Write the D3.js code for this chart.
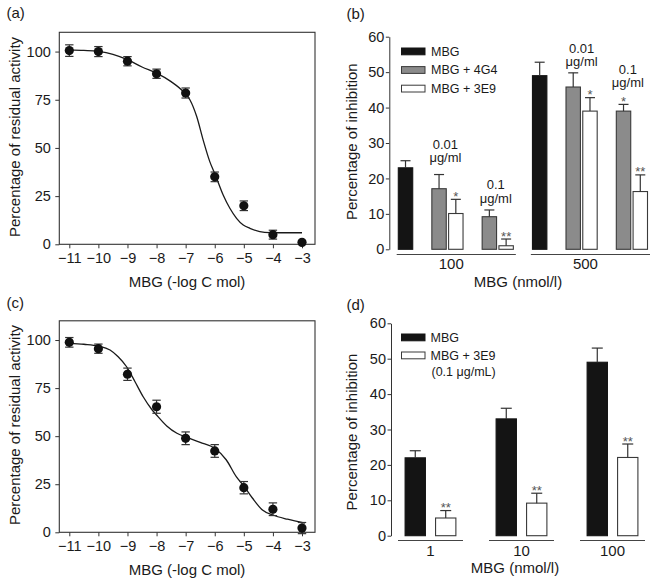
<!DOCTYPE html>
<html><head><meta charset="utf-8">
<script src="https://cdn.jsdelivr.net/npm/d3@7/dist/d3.min.js"></script>
<style>
body{margin:0;background:#fff}
svg{display:block}
text{font-family:"Liberation Sans",Arial,Helvetica,sans-serif;fill:#1a1a1a}
</style>
</head><body>
<svg id="chart" width="656" height="578"></svg>
<script>
// ---------- DATA ----------
const logTicks = [-11, -10, -9, -8, -7, -6, -5, -4, -3];
const pctTicks = [0, 25, 50, 75, 100];

// panel (a)
const aLogC = [-11, -10, -9, -8, -7, -6, -5, -4, -3];
const aMean = [100.5, 100, 95, 88.5, 78.5, 35, 20, 5, 1];
const aErr  = [3, 2.6, 2.4, 2.4, 2.6, 2.5, 2.5, 2.3, 0];
const aFitX = [-11, -10.5, -10, -9.5, -9, -8.5, -8, -7.5, -7.08, -6.85, -6.62, -6.4, -6.17, -5.98, -5.71, -5.48, -5.25, -5.02, -4.79, -4.45, -4.1, -3.5, -3];
const aFitY = [100.9, 100.6, 100.1, 98.6, 95.8, 92.0, 88.8, 84.4, 79.2, 74.9, 66.3, 54.2, 42.9, 36, 25.6, 18.7, 13.5, 10.0, 8.3, 6.6, 6.1, 6.0, 6.0];

// panel (c)
const cLogC = [-11, -10, -9, -8, -7, -6, -5, -4, -3];
const cMean = [98.8, 95.5, 82.2, 65.3, 48.9, 42.3, 23.2, 12, 2.2];
const cErr  = [2.5, 2.4, 3.2, 3.4, 3.3, 3.3, 3.2, 3.3, 2.9];
const cFitX = [-11, -10.5, -10, -9.6, -9.32, -9.03, -8.74, -8.46, -8.17, -8, -7.65, -7.3, -7, -6.5, -6, -5.6, -5.26, -5, -4.7, -4.36, -4, -3.5, -2.9];
const cFitY = [98.3, 97.8, 96.9, 94.8, 91.3, 86.1, 78.3, 70.5, 64.0, 61.0, 55.3, 51.5, 49.6, 46.8, 43.7, 37.6, 28.9, 24.1, 17.7, 11.6, 9.0, 6.8, 4.8];

// panel (b)
const inhTicks = [0, 10, 20, 30, 40, 50, 60];
const bGroups = ["100", "500"];
const bSeriesNames = ["MBG", "MBG + 4G4", "MBG + 3E9"];
const bMBG       = [23, 49];    const bMBGErr       = [2, 3.8];
const b4G4_001   = [17.1, 45.8]; const b4G4_001Err   = [4, 4];
const b3E9_001   = [10.1, 39];  const b3E9_001Err   = [4, 3.8];
const b4G4_01    = [9.2, 39];   const b4G4_01Err    = [1.9, 1.9];
const b3E9_01    = [1, 16.3];   const b3E9_01Err    = [1.9, 4.7];
const b3E9_001Sig = ["*", "*"];
const b4G4_01Sig  = ["", "*"];
const b3E9_01Sig  = ["**", "**"];
const bDoseLabels = ["0.01", "0.1"];
const bDoseUnit = "\u03bcg/ml";

// panel (d)
const dGroups = ["1", "10", "100"];
const dSeriesNames = ["MBG", "MBG + 3E9"];
const dMBG    = [22, 33, 49];   const dMBGErr = [2, 3, 4];
const d3E9    = [5, 9.2, 22.1]; const d3E9Err = [2.1, 2.8, 3.8];
const d3E9Sig = ["**", "**", "**"];
const dLegendNote = "(0.1 \u03bcg/mL)";

// ---------- HELPERS ----------
const SX = 1;
const svg = d3.select("#chart");
function txt(g, x, y, s, size, anchor = "middle", fill = "#1a1a1a") {
  return g.append("text")
    .attr("transform", `translate(${x},${y}) scale(${SX},1)`)
    .attr("text-anchor", anchor).attr("font-size", size).style("fill", fill).text(s);
}
function vtxt(g, x, y, s, size) {
  return g.append("text")
    .attr("transform", `translate(${x},${y}) rotate(-90)`)
    .attr("text-anchor", "middle").attr("font-size", size).text(s);
}
function squeezeTicks(ax, size) {
  ax.selectAll(".tick text").attr("font-size", size).style("fill", "#1a1a1a")
    .attr("font-family", null)
    .each(function () {
      const x = +(this.getAttribute("x") || 0);
      this.setAttribute("x", 0);
      this.setAttribute("transform", `translate(${x},0) scale(${SX},1)`);
    });
  ax.selectAll(".tick line").attr("stroke", "#333");
  ax.selectAll(".domain").attr("stroke", "#333");
  ax.attr("font-family", null);
}

// ---------- CURVE PANELS ----------
function curvePanel(P) {
  const g = svg.append("g");
  const x = d3.scaleLinear().domain([-11, -3]).range([69.3, 302]);
  const y = d3.scaleLinear().domain([0, 110]).range([P.bottom, P.top]);
  const L = 59.3, R = 315;
  g.append("rect").attr("x", L).attr("y", P.top).attr("width", R - L).attr("height", P.bottom - P.top)
    .attr("fill", "none").attr("stroke", "#333").attr("stroke-width", 1.1);

  const ay = g.append("g").attr("transform", `translate(${L},0)`)
    .call(d3.axisLeft(y).tickValues(pctTicks).tickSize(4).tickPadding(4.5).tickSizeOuter(0));
  ay.select(".domain").remove();
  squeezeTicks(ay, 14.5);
  const ax = g.append("g").attr("transform", `translate(0,${P.bottom})`)
    .call(d3.axisBottom(x).tickValues(logTicks).tickSize(4).tickPadding(4.5).tickSizeOuter(0));
  ax.select(".domain").remove();
  squeezeTicks(ax, 14.5);

  const fit = P.fitX.map((v, i) => [v, P.fitY[i]]);
  g.append("path").datum(fit)
    .attr("d", d3.line().x(d => x(d[0])).y(d => y(d[1])).curve(d3.curveMonotoneX))
    .attr("fill", "none").attr("stroke", "#1a1a1a").attr("stroke-width", 1.3);

  const pts = P.xs.map((v, i) => ({ x: v, m: P.mean[i], e: P.err[i] }));
  const eb = g.append("g").attr("stroke", "#333").attr("stroke-width", 1.2);
  pts.filter(d => d.e > 0).forEach(d => {
    const cx = x(d.x);
    eb.append("line").attr("x1", cx).attr("x2", cx).attr("y1", y(d.m - d.e)).attr("y2", y(d.m + d.e));
    eb.append("line").attr("x1", cx - 4.2).attr("x2", cx + 4.2).attr("y1", y(d.m - d.e)).attr("y2", y(d.m - d.e));
    eb.append("line").attr("x1", cx - 4.2).attr("x2", cx + 4.2).attr("y1", y(d.m + d.e)).attr("y2", y(d.m + d.e));
  });
  g.selectAll("circle.pt").data(pts).join("circle")
    .attr("cx", d => x(d.x)).attr("cy", d => y(d.m)).attr("r", 4.6).attr("fill", "#111");

  vtxt(g, 19.5, P.ylabY, "Percentage of  residual activity", 15);
  txt(g, 187, P.xlabY, "MBG (-log C mol)", 15);
  txt(g, 6.5, P.panelY, P.label, 15, "start");
}

curvePanel({ top: 32.3, bottom: 244.3, xs: aLogC, mean: aMean, err: aErr, fitX: aFitX, fitY: aFitY,
  ylabY: 137, xlabY: 286.5, panelY: 18, label: "(a)" });
curvePanel({ top: 320.8, bottom: 532.3, xs: cLogC, mean: cMean, err: cErr, fitX: cFitX, fitY: cFitY,
  ylabY: 425, xlabY: 574.5, panelY: 307.5, label: "(c)" });

// ---------- BAR HELPERS ----------
const COL = { black: "#141414", gray: "#8b8b8b", white: "#ffffff" };
function bar(g, x, w, y, v, e, fill, capW) {
  const y0 = y(0);
  g.append("rect").attr("x", x).attr("y", y(v)).attr("width", w).attr("height", y0 - y(v))
    .attr("fill", fill).attr("stroke", fill === COL.black ? "#141414" : "#3a3a3a").attr("stroke-width", 1.1);
  const cx = x + w / 2;
  g.append("line").attr("x1", cx).attr("x2", cx).attr("y1", y(v)).attr("y2", y(v + e))
    .attr("stroke", "#333").attr("stroke-width", 1.2);
  g.append("line").attr("x1", cx - capW / 2).attr("x2", cx + capW / 2).attr("y1", y(v + e)).attr("y2", y(v + e))
    .attr("stroke", "#333").attr("stroke-width", 1.2);
}
function sig(g, cx, yTop, s) {
  if (!s) return;
  txt(g, cx, yTop + 1.5, s, 13, "middle", "#555");
}

// ---------- PANEL (b) ----------
(function () {
  const g = svg.append("g");
  const AX = 389.3;
  const y = d3.scaleLinear().domain([0, 60]).range([249.3, 36.7]);
  const slot = d3.scaleBand().domain(d3.range(15)).range([398.3, 647.5]).paddingInner(0.14);
  const bw = slot.bandwidth();
  const ay = g.append("g").attr("transform", `translate(${AX},0)`)
    .call(d3.axisLeft(y).tickValues(inhTicks).tickSize(3.5).tickPadding(1.5).tickSizeOuter(0));
  squeezeTicks(ay, 14.5);

  const series = [
    { v: bMBG, e: bMBGErr, fill: COL.black, off: 0, sig: null },
    { v: b4G4_001, e: b4G4_001Err, fill: COL.gray, off: 2, sig: null },
    { v: b3E9_001, e: b3E9_001Err, fill: COL.white, off: 3, sig: b3E9_001Sig },
    { v: b4G4_01, e: b4G4_01Err, fill: COL.gray, off: 5, sig: b4G4_01Sig },
    { v: b3E9_01, e: b3E9_01Err, fill: COL.white, off: 6, sig: b3E9_01Sig },
  ];
  bGroups.forEach((grp, gi) => {
    const base = gi * 8;
    series.forEach(s => {
      const x0 = slot(base + s.off);
      bar(g, x0, bw, y, s.v[gi], s.e[gi], s.fill, 10);
      if (s.sig) sig(g, x0 + bw / 2, y(s.v[gi] + s.e[gi]), s.sig[gi]);
    });
    const gx0 = slot(base) - 1.6, gx1 = slot(base + 6) + bw + 2.5;
    g.append("line").attr("x1", gx0).attr("x2", gx1).attr("y1", 254.5).attr("y2", 254.5)
      .attr("stroke", "#444").attr("stroke-width", 1.1);
    txt(g, (gx0 + gx1) / 2 - 5, 268.5, grp, 15);
  });
  // dose annotations
  const annLevels = [[24.6, 13.1], [51.7, 45.8]];
  const annShift = [[-2, -2], [0, -4]];
  bGroups.forEach((grp, gi) => {
    [2, 5].forEach((off, k) => {
      const cx = (slot(gi * 8 + off) + slot(gi * 8 + off + 1) + bw) / 2 + annShift[gi][k];
      const yb = y(annLevels[gi][k]);
      txt(g, cx, yb - 13.5, bDoseLabels[k], 13);
      txt(g, cx, yb, bDoseUnit, 13);
    });
  });
  // legend
  const fills = [COL.black, COL.gray, COL.white];
  bSeriesNames.forEach((n, i) => {
    const yy = 48 + i * 18.6;
    g.append("rect").attr("x", 401.5).attr("y", yy).attr("width", 23.5).attr("height", 6.8)
      .attr("fill", fills[i]).attr("stroke", i === 0 ? "#141414" : "#3a3a3a").attr("stroke-width", 1);
    txt(g, 431, yy + 7.8, n, 12.5, "start");
  });
  vtxt(g, 357, 141.7, "Percentage of  inhibition", 15);
  txt(g, 518, 286.5, "MBG (nmol/l)", 15);
  txt(g, 346.5, 18.5, "(b)", 15, "start");
})();

// ---------- PANEL (d) ----------
(function () {
  const g = svg.append("g");
  const AX = 391;
  const y = d3.scaleLinear().domain([0, 60]).range([535.7, 323.3]);
  const xg = d3.scaleBand().domain(dGroups).range([398, 645]).paddingInner(0.286);
  const xi = d3.scaleBand().domain(dSeriesNames).range([0, xg.bandwidth()]).paddingInner(0.333).paddingOuter(0.233);
  const ay = g.append("g").attr("transform", `translate(${AX},0)`)
    .call(d3.axisLeft(y).tickValues(inhTicks).tickSize(3.5).tickPadding(1.5).tickSizeOuter(0));
  squeezeTicks(ay, 14.5);
  dGroups.forEach((grp, gi) => {
    const gx = xg(grp);
    bar(g, gx + xi("MBG"), xi.bandwidth(), y, dMBG[gi], dMBGErr[gi], COL.black, 11);
    const wx = gx + xi("MBG + 3E9");
    bar(g, wx, xi.bandwidth(), y, d3E9[gi], d3E9Err[gi], COL.white, 11);
    sig(g, wx + xi.bandwidth() / 2, y(d3E9[gi] + d3E9Err[gi]), d3E9Sig[gi]);
    g.append("line").attr("x1", gx).attr("x2", gx + xg.bandwidth()).attr("y1", 540.5).attr("y2", 540.5)
      .attr("stroke", "#444").attr("stroke-width", 1.1);
    txt(g, gx + xg.bandwidth() / 2, 555.5, grp, 15);
  });
  const fills = [COL.black, COL.white];
  dSeriesNames.forEach((n, i) => {
    const yy = 334 + i * 18;
    g.append("rect").attr("x", 401.5).attr("y", yy).attr("width", 23.5).attr("height", 6.8)
      .attr("fill", fills[i]).attr("stroke", i === 0 ? "#141414" : "#3a3a3a").attr("stroke-width", 1);
    txt(g, 430.5, yy + 7.8, n, 12.5, "start");
  });
  txt(g, 431.5, 375.5, dLegendNote, 12.5, "start");
  vtxt(g, 357, 432, "Percentage of  inhibition", 15);
  txt(g, 515, 572.5, "MBG (nmol/l)", 15);
  txt(g, 346.5, 310, "(d)", 15, "start");
})();
</script>
</body></html>
